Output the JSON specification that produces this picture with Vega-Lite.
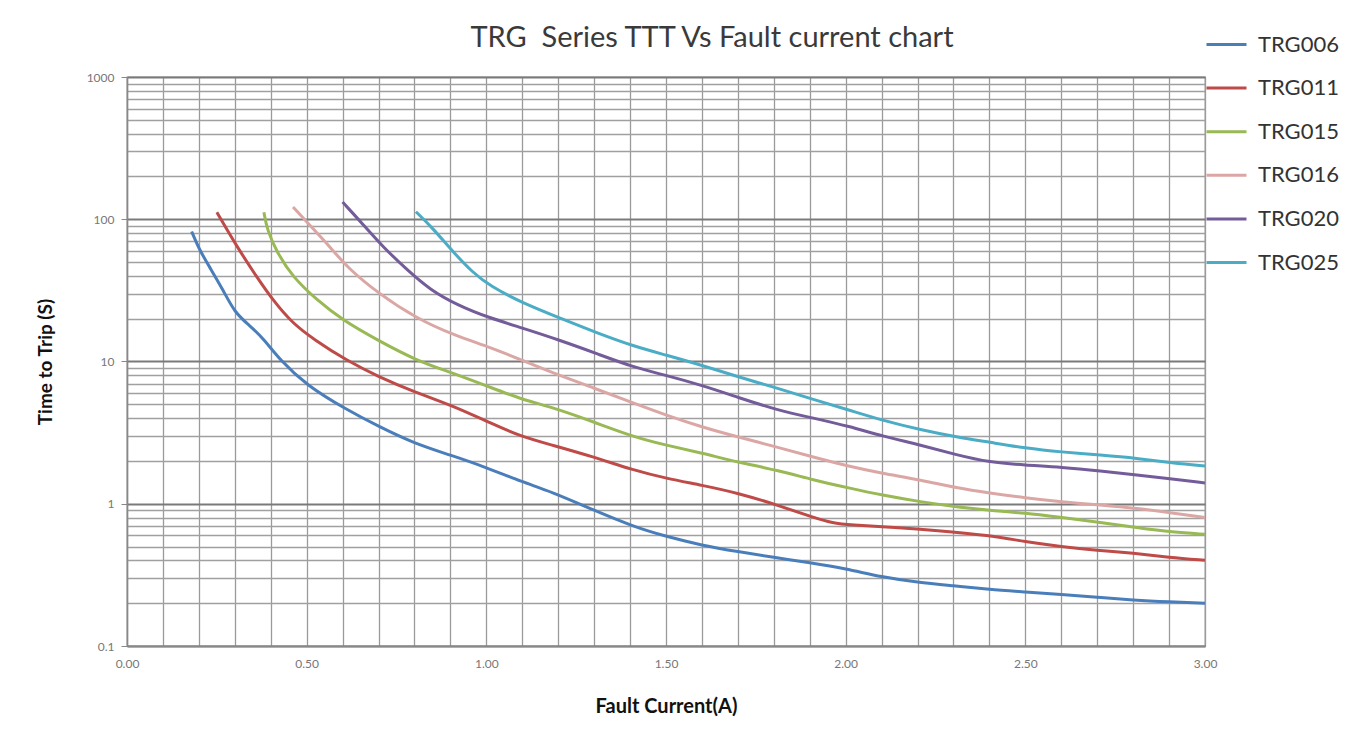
{
  "$schema": "https://vega.github.io/schema/vega-lite/v6.json",
  "width": 1078,
  "height": 569,
  "autosize": {"type": "none"},
  "padding": {"left": 127, "top": 77, "right": 155, "bottom": 87},
  "background": "white",
  "title": {
    "text": "TRG\u00a0 Series TTT Vs Fault current chart",
    "anchor": "middle",
    "frame": "group",
    "dx": 46,
    "baseline": "alphabetic",
    "offset": -53,
    "font": "Lato",
    "fontSize": 29,
    "fontWeight": "normal",
    "color": "#3a3a3a"
  },
  "config": {
    "view": {"stroke": "#9a9a9a", "strokeWidth": 1.3},
    "font": "Lato"
  },
  "data": {
    "values": [
      {"s": "TRG006", "x": 0.18, "y": 82},
      {"s": "TRG006", "x": 0.2, "y": 62},
      {"s": "TRG006", "x": 0.23, "y": 46},
      {"s": "TRG006", "x": 0.267, "y": 32},
      {"s": "TRG006", "x": 0.3, "y": 22},
      {"s": "TRG006", "x": 0.34, "y": 18},
      {"s": "TRG006", "x": 0.38, "y": 14.5},
      {"s": "TRG006", "x": 0.426, "y": 10.2},
      {"s": "TRG006", "x": 0.5, "y": 6.8},
      {"s": "TRG006", "x": 0.61, "y": 4.6},
      {"s": "TRG006", "x": 0.7, "y": 3.5},
      {"s": "TRG006", "x": 0.8, "y": 2.65},
      {"s": "TRG006", "x": 0.9, "y": 2.2},
      {"s": "TRG006", "x": 1.0, "y": 1.8},
      {"s": "TRG006", "x": 1.1, "y": 1.42},
      {"s": "TRG006", "x": 1.18, "y": 1.22},
      {"s": "TRG006", "x": 1.3, "y": 0.9},
      {"s": "TRG006", "x": 1.41, "y": 0.69},
      {"s": "TRG006", "x": 1.5, "y": 0.59},
      {"s": "TRG006", "x": 1.6, "y": 0.51},
      {"s": "TRG006", "x": 1.7, "y": 0.46},
      {"s": "TRG006", "x": 1.8, "y": 0.42},
      {"s": "TRG006", "x": 1.9, "y": 0.385},
      {"s": "TRG006", "x": 2.0, "y": 0.35},
      {"s": "TRG006", "x": 2.1, "y": 0.305},
      {"s": "TRG006", "x": 2.2, "y": 0.28},
      {"s": "TRG006", "x": 2.3, "y": 0.265},
      {"s": "TRG006", "x": 2.4, "y": 0.25},
      {"s": "TRG006", "x": 2.5, "y": 0.24},
      {"s": "TRG006", "x": 2.6, "y": 0.23},
      {"s": "TRG006", "x": 2.7, "y": 0.22},
      {"s": "TRG006", "x": 2.8, "y": 0.21},
      {"s": "TRG006", "x": 2.9, "y": 0.204},
      {"s": "TRG006", "x": 3.0, "y": 0.2},
      {"s": "TRG011", "x": 0.25, "y": 112},
      {"s": "TRG011", "x": 0.306, "y": 64},
      {"s": "TRG011", "x": 0.362, "y": 39},
      {"s": "TRG011", "x": 0.406, "y": 27},
      {"s": "TRG011", "x": 0.46, "y": 18.6},
      {"s": "TRG011", "x": 0.52, "y": 14.3},
      {"s": "TRG011", "x": 0.61, "y": 10.2},
      {"s": "TRG011", "x": 0.7, "y": 7.8},
      {"s": "TRG011", "x": 0.8, "y": 6.1},
      {"s": "TRG011", "x": 0.91, "y": 4.85},
      {"s": "TRG011", "x": 1.01, "y": 3.7},
      {"s": "TRG011", "x": 1.1, "y": 2.95},
      {"s": "TRG011", "x": 1.18, "y": 2.6},
      {"s": "TRG011", "x": 1.3, "y": 2.13},
      {"s": "TRG011", "x": 1.41, "y": 1.72},
      {"s": "TRG011", "x": 1.5, "y": 1.51},
      {"s": "TRG011", "x": 1.6, "y": 1.35},
      {"s": "TRG011", "x": 1.7, "y": 1.19},
      {"s": "TRG011", "x": 1.81, "y": 0.98},
      {"s": "TRG011", "x": 1.91, "y": 0.8},
      {"s": "TRG011", "x": 1.965, "y": 0.73},
      {"s": "TRG011", "x": 2.01, "y": 0.71},
      {"s": "TRG011", "x": 2.14, "y": 0.68},
      {"s": "TRG011", "x": 2.25, "y": 0.65},
      {"s": "TRG011", "x": 2.4, "y": 0.6},
      {"s": "TRG011", "x": 2.5, "y": 0.54},
      {"s": "TRG011", "x": 2.6, "y": 0.5},
      {"s": "TRG011", "x": 2.7, "y": 0.47},
      {"s": "TRG011", "x": 2.8, "y": 0.45},
      {"s": "TRG011", "x": 2.9, "y": 0.42},
      {"s": "TRG011", "x": 3.0, "y": 0.4},
      {"s": "TRG015", "x": 0.381, "y": 112},
      {"s": "TRG015", "x": 0.39, "y": 84},
      {"s": "TRG015", "x": 0.418, "y": 58},
      {"s": "TRG015", "x": 0.462, "y": 39},
      {"s": "TRG015", "x": 0.529, "y": 27},
      {"s": "TRG015", "x": 0.6, "y": 19.5},
      {"s": "TRG015", "x": 0.7, "y": 14},
      {"s": "TRG015", "x": 0.807, "y": 10.1},
      {"s": "TRG015", "x": 0.907, "y": 8.3},
      {"s": "TRG015", "x": 1.01, "y": 6.6},
      {"s": "TRG015", "x": 1.1, "y": 5.4},
      {"s": "TRG015", "x": 1.18, "y": 4.8},
      {"s": "TRG015", "x": 1.3, "y": 3.75},
      {"s": "TRG015", "x": 1.41, "y": 2.95},
      {"s": "TRG015", "x": 1.5, "y": 2.58},
      {"s": "TRG015", "x": 1.6, "y": 2.27},
      {"s": "TRG015", "x": 1.7, "y": 1.96},
      {"s": "TRG015", "x": 1.81, "y": 1.72},
      {"s": "TRG015", "x": 1.91, "y": 1.47},
      {"s": "TRG015", "x": 2.01, "y": 1.29},
      {"s": "TRG015", "x": 2.1, "y": 1.15},
      {"s": "TRG015", "x": 2.21, "y": 1.03},
      {"s": "TRG015", "x": 2.31, "y": 0.95},
      {"s": "TRG015", "x": 2.4, "y": 0.9},
      {"s": "TRG015", "x": 2.5, "y": 0.86},
      {"s": "TRG015", "x": 2.6, "y": 0.8},
      {"s": "TRG015", "x": 2.71, "y": 0.74},
      {"s": "TRG015", "x": 2.81, "y": 0.68},
      {"s": "TRG015", "x": 2.91, "y": 0.63},
      {"s": "TRG015", "x": 3.0, "y": 0.61},
      {"s": "TRG016", "x": 0.462, "y": 122},
      {"s": "TRG016", "x": 0.529, "y": 80},
      {"s": "TRG016", "x": 0.565, "y": 64},
      {"s": "TRG016", "x": 0.612, "y": 46},
      {"s": "TRG016", "x": 0.7, "y": 30},
      {"s": "TRG016", "x": 0.807, "y": 20},
      {"s": "TRG016", "x": 0.91, "y": 15.3},
      {"s": "TRG016", "x": 1.01, "y": 12.6},
      {"s": "TRG016", "x": 1.1, "y": 10.2},
      {"s": "TRG016", "x": 1.18, "y": 8.4},
      {"s": "TRG016", "x": 1.3, "y": 6.5},
      {"s": "TRG016", "x": 1.41, "y": 5.1},
      {"s": "TRG016", "x": 1.5, "y": 4.2},
      {"s": "TRG016", "x": 1.6, "y": 3.46},
      {"s": "TRG016", "x": 1.7, "y": 2.95},
      {"s": "TRG016", "x": 1.81, "y": 2.5},
      {"s": "TRG016", "x": 1.91, "y": 2.13},
      {"s": "TRG016", "x": 2.01, "y": 1.83},
      {"s": "TRG016", "x": 2.1, "y": 1.64},
      {"s": "TRG016", "x": 2.21, "y": 1.47},
      {"s": "TRG016", "x": 2.31, "y": 1.29},
      {"s": "TRG016", "x": 2.4, "y": 1.19},
      {"s": "TRG016", "x": 2.5, "y": 1.1},
      {"s": "TRG016", "x": 2.6, "y": 1.03},
      {"s": "TRG016", "x": 2.71, "y": 0.98},
      {"s": "TRG016", "x": 2.81, "y": 0.93},
      {"s": "TRG016", "x": 2.91, "y": 0.86},
      {"s": "TRG016", "x": 3.0, "y": 0.8},
      {"s": "TRG020", "x": 0.6, "y": 132},
      {"s": "TRG020", "x": 0.657, "y": 92},
      {"s": "TRG020", "x": 0.712, "y": 64},
      {"s": "TRG020", "x": 0.78, "y": 44},
      {"s": "TRG020", "x": 0.843, "y": 32},
      {"s": "TRG020", "x": 0.918, "y": 25},
      {"s": "TRG020", "x": 1.01, "y": 20.2},
      {"s": "TRG020", "x": 1.1, "y": 17.2},
      {"s": "TRG020", "x": 1.205, "y": 14.1},
      {"s": "TRG020", "x": 1.31, "y": 11.3},
      {"s": "TRG020", "x": 1.41, "y": 9.1},
      {"s": "TRG020", "x": 1.5, "y": 8.0},
      {"s": "TRG020", "x": 1.6, "y": 6.8},
      {"s": "TRG020", "x": 1.7, "y": 5.6},
      {"s": "TRG020", "x": 1.81, "y": 4.55},
      {"s": "TRG020", "x": 1.91, "y": 4.0},
      {"s": "TRG020", "x": 2.01, "y": 3.5},
      {"s": "TRG020", "x": 2.1, "y": 3.0},
      {"s": "TRG020", "x": 2.21, "y": 2.58},
      {"s": "TRG020", "x": 2.31, "y": 2.2},
      {"s": "TRG020", "x": 2.4, "y": 1.96},
      {"s": "TRG020", "x": 2.5, "y": 1.87},
      {"s": "TRG020", "x": 2.6, "y": 1.81},
      {"s": "TRG020", "x": 2.71, "y": 1.7},
      {"s": "TRG020", "x": 2.81, "y": 1.59},
      {"s": "TRG020", "x": 2.91, "y": 1.49},
      {"s": "TRG020", "x": 3.0, "y": 1.4},
      {"s": "TRG025", "x": 0.804, "y": 113},
      {"s": "TRG025", "x": 0.852, "y": 86},
      {"s": "TRG025", "x": 0.907, "y": 59},
      {"s": "TRG025", "x": 0.963, "y": 42},
      {"s": "TRG025", "x": 1.01, "y": 34},
      {"s": "TRG025", "x": 1.1, "y": 25.8},
      {"s": "TRG025", "x": 1.205, "y": 20.2},
      {"s": "TRG025", "x": 1.31, "y": 15.8},
      {"s": "TRG025", "x": 1.41, "y": 12.8},
      {"s": "TRG025", "x": 1.5, "y": 11.1},
      {"s": "TRG025", "x": 1.6, "y": 9.4},
      {"s": "TRG025", "x": 1.7, "y": 7.8},
      {"s": "TRG025", "x": 1.81, "y": 6.5},
      {"s": "TRG025", "x": 1.91, "y": 5.4},
      {"s": "TRG025", "x": 2.01, "y": 4.55},
      {"s": "TRG025", "x": 2.1, "y": 3.87},
      {"s": "TRG025", "x": 2.21, "y": 3.3},
      {"s": "TRG025", "x": 2.31, "y": 2.94},
      {"s": "TRG025", "x": 2.4, "y": 2.71},
      {"s": "TRG025", "x": 2.5, "y": 2.46},
      {"s": "TRG025", "x": 2.6, "y": 2.31},
      {"s": "TRG025", "x": 2.71, "y": 2.2},
      {"s": "TRG025", "x": 2.81, "y": 2.09},
      {"s": "TRG025", "x": 2.91, "y": 1.93},
      {"s": "TRG025", "x": 3.0, "y": 1.84}
    ]
  },
  "mark": {"type": "line", "interpolate": "basis", "strokeWidth": 3, "clip": true},
  "encoding": {
    "x": {
      "field": "x",
      "type": "quantitative",
      "scale": {"domain": [0, 3], "nice": false, "zero": false},
      "axis": {
        "title": "Fault Current(A)",
        "titleFont": "Lato",
        "titleFontSize": 20,
        "titleFontWeight": "bold",
        "titleColor": "#111",
        "titleBaseline": "middle",
        "titleY": 60,
        "values": [0, 0.1, 0.2, 0.3, 0.4, 0.5, 0.6, 0.7, 0.8, 0.9, 1.0, 1.1, 1.2, 1.3, 1.4, 1.5, 1.6, 1.7, 1.8, 1.9, 2.0, 2.1, 2.2, 2.3, 2.4, 2.5, 2.6, 2.7, 2.8, 2.9, 3.0],
        "labelExpr": "abs(datum.value*2 - round(datum.value*2)) < 0.001 ? format(datum.value, '.2f') : ''",
        "labelFont": "Lato",
        "labelFontSize": 12,
        "labelColor": "#777",
        "labelPadding": 12,
        "labelOverlap": false,
        "labelFlush": false,
        "ticks": false,
        "domainColor": "#888",
        "domainWidth": 1.5,
        "grid": true,
        "gridColor": "#9a9a9a",
        "gridWidth": 1.3
      }
    },
    "y": {
      "field": "y",
      "type": "quantitative",
      "scale": {"type": "log", "domain": [0.1, 1000], "nice": false},
      "axis": {
        "title": "Time to Trip (S)",
        "titleFont": "Lato",
        "titleFontSize": 19,
        "titleFontWeight": "bold",
        "titleColor": "#111",
        "titleBaseline": "middle",
        "titleX": -82,
        "values": [0.1, 0.2, 0.3, 0.4, 0.5, 0.6, 0.7, 0.8, 0.9, 1, 2, 3, 4, 5, 6, 7, 8, 9, 10, 20, 30, 40, 50, 60, 70, 80, 90, 100, 200, 300, 400, 500, 600, 700, 800, 900, 1000],
        "labelExpr": "abs(log(datum.value)/LN10 - round(log(datum.value)/LN10)) < 0.001 ? format(datum.value, '~g') : ''",
        "labelFont": "Lato",
        "labelFontSize": 12,
        "labelColor": "#777",
        "labelPadding": 7,
        "labelOverlap": false,
        "labelFlush": false,
        "tickSize": 6,
        "tickColor": "#888",
        "tickOpacity": {"condition": {"test": "abs(log(datum.value)/LN10 - round(log(datum.value)/LN10)) < 0.001", "value": 1}, "value": 0},
        "domainColor": "#888",
        "domainWidth": 1.5,
        "grid": true,
        "gridColor": {"condition": {"test": "abs(log(datum.value)/LN10 - round(log(datum.value)/LN10)) < 0.001", "value": "#7a7a7a"}, "value": "#a0a0a0"},
        "gridWidth": {"condition": {"test": "abs(log(datum.value)/LN10 - round(log(datum.value)/LN10)) < 0.001", "value": 2}, "value": 1.3}
      }
    },
    "color": {
      "field": "s",
      "type": "nominal",
      "scale": {
        "domain": ["TRG006", "TRG011", "TRG015", "TRG016", "TRG020", "TRG025"],
        "range": ["#4A7EBB", "#BE4B48", "#98B954", "#DBA7A5", "#735C99", "#4BACC6"]
      },
      "legend": {
        "title": null,
        "orient": "none",
        "legendX": 1078,
        "legendY": -54,
        "padding": 0,
        "symbolType": "stroke",
        "symbolSize": 1600,
        "symbolStrokeWidth": 3,
        "rowPadding": 10.6,
        "labelOffset": 10,
        "labelFont": "Lato",
        "labelFontSize": 22,
        "labelColor": "#333",
        "labelLimit": 200
      }
    }
  }
}
